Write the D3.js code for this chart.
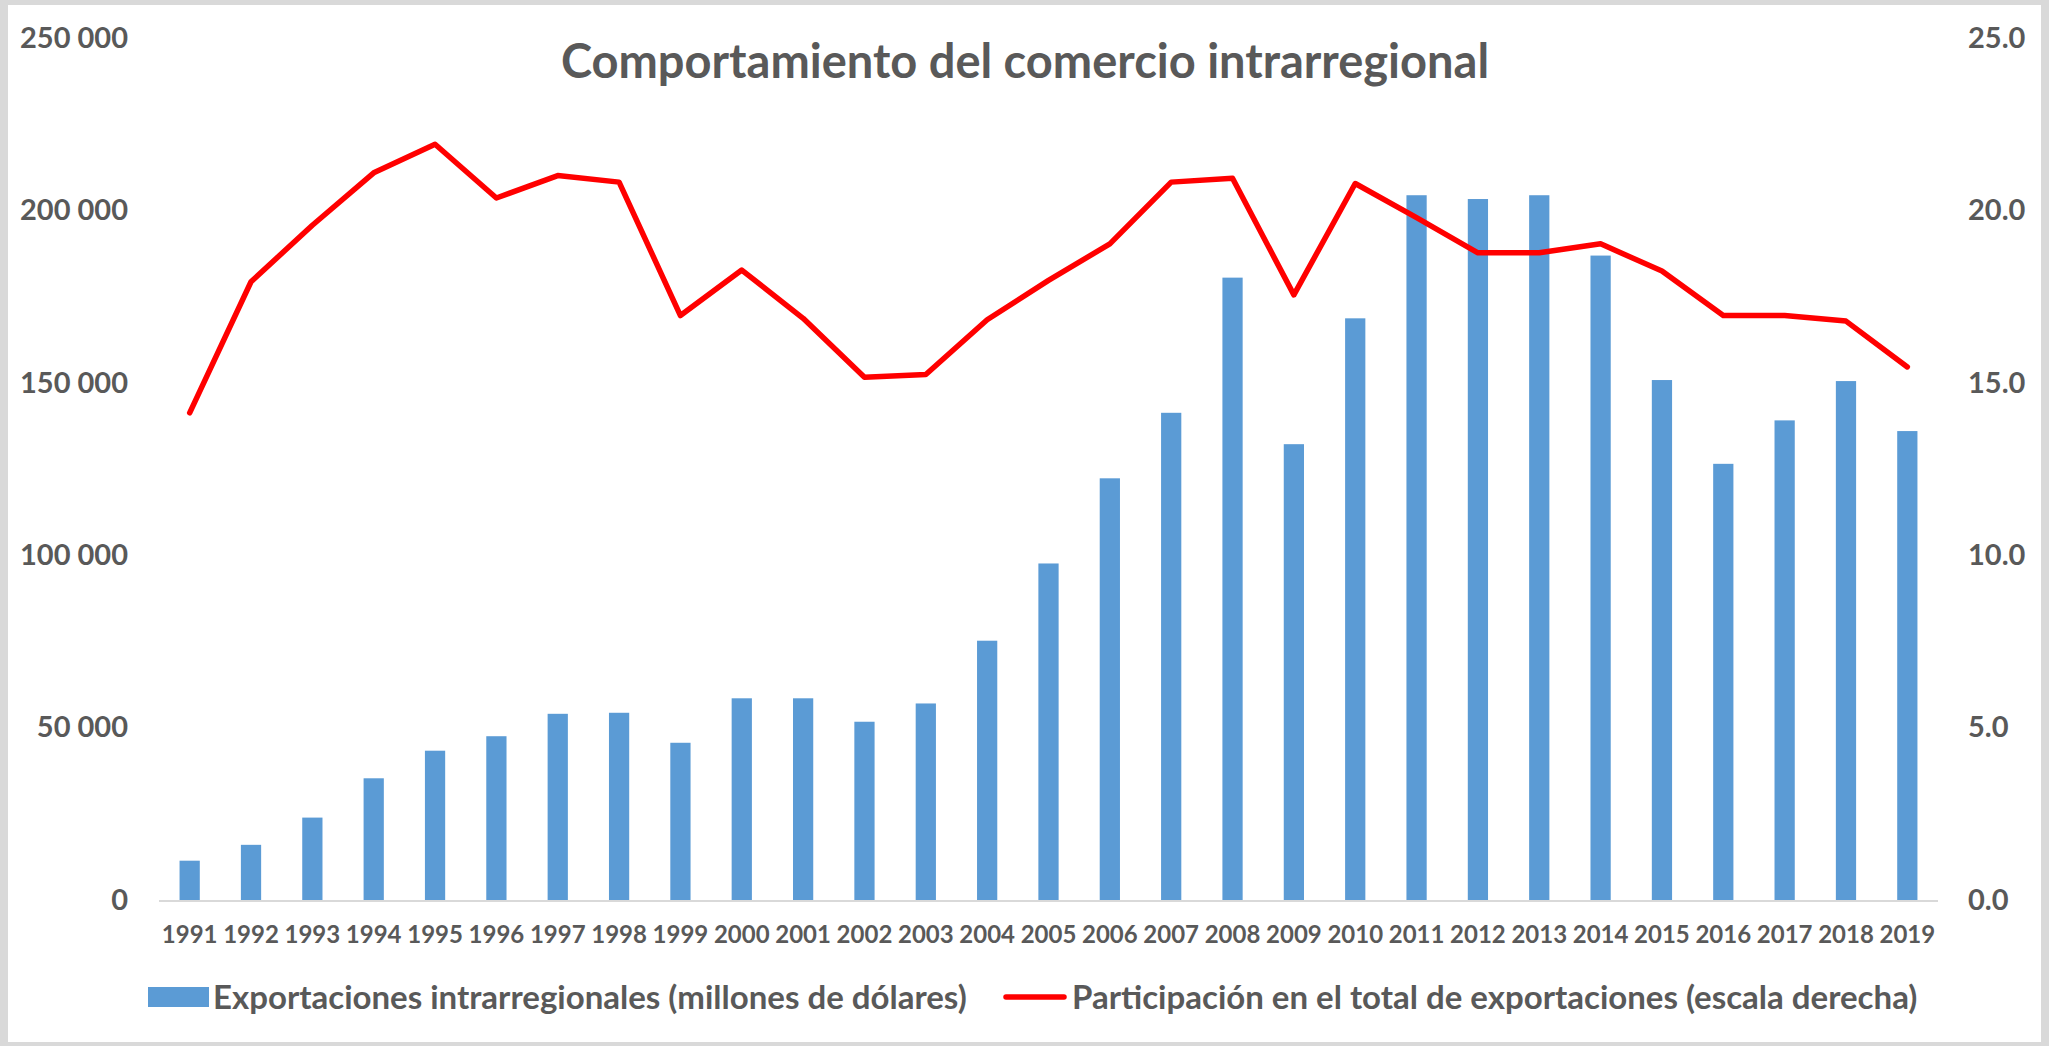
<!DOCTYPE html>
<html><head><meta charset="utf-8">
<script src="https://cdn.jsdelivr.net/npm/d3@7"></script>
<style>body{margin:0;background:#fff}svg{display:block}</style>
</head><body>
<script>
const years = [1991,1992,1993,1994,1995,1996,1997,1998,1999,2000,2001,2002,2003,2004,2005,2006,2007,2008,2009,2010,2011,2012,2013,2014,2015,2016,2017,2018,2019];
const exportaciones = [11400,16000,23900,35300,43300,47500,54000,54300,45600,58500,58500,51700,57000,75200,97600,122300,141300,180500,132200,168700,204400,203300,204400,186900,150800,126500,139100,150500,136000];
const participacion = [14.13,17.93,19.57,21.09,21.92,20.36,21.01,20.82,16.95,18.27,16.87,15.16,15.24,16.83,17.97,19.03,20.82,20.93,17.55,20.78,19.79,18.77,18.77,19.03,18.24,16.95,16.95,16.79,15.46];
const leftTicks = [0,50000,100000,150000,200000,250000];
const rightTicks = [0,5,10,15,20,25];
const title = "Comportamiento del comercio intrarregional";
const legendLabels = ["Exportaciones intrarregionales (millones de dólares)","Participación en el total de exportaciones (escala derecha)"];

const W=2049,H=1046;
const FONT="Lato, 'Open Sans', sans-serif";
const TXT="#595959";
const svg=d3.select("body").append("svg").attr("width",W).attr("height",H);
svg.append("rect").attr("width",W).attr("height",H).attr("fill","#D9D9D9");
svg.append("rect").attr("x",8).attr("y",5).attr("width",2033).attr("height",1037).attr("fill","#fff");

const m={l:159,r:1938,t:38,b:900};
const x=d3.scaleBand().domain(years).range([m.l,m.r]).paddingInner(0.67).paddingOuter(0.335);
const yL=d3.scaleLinear().domain([0,250000]).range([m.b,m.t]);
const yR=d3.scaleLinear().domain([0,25]).range([m.b,m.t]);

svg.append("g").selectAll("rect").data(years).join("rect")
  .attr("x",d=>x(d)).attr("width",x.bandwidth())
  .attr("y",(d,i)=>yL(exportaciones[i])).attr("height",(d,i)=>m.b-yL(exportaciones[i]))
  .attr("fill","#5B9BD5");

svg.append("line").attr("x1",m.l).attr("x2",m.r).attr("y1",m.b+1).attr("y2",m.b+1)
  .attr("stroke","#D9D9D9").attr("stroke-width",2);

const fmt=d=>d3.format(",")(d).replace(/,/g," ");
const gL=svg.append("g").attr("transform",`translate(128,0)`)
  .call(d3.axisLeft(yL).tickValues(leftTicks).tickFormat(fmt).tickSize(0).tickPadding(0));
gL.select(".domain").remove();
const gR=svg.append("g").attr("transform",`translate(1968,0)`)
  .call(d3.axisRight(yR).tickValues(rightTicks).tickFormat(d3.format(".1f")).tickSize(0).tickPadding(0));
gR.select(".domain").remove();
const gX=svg.append("g").attr("transform",`translate(0,${m.b+26})`)
  .call(d3.axisBottom(x).tickSize(0).tickPadding(0));
gX.select(".domain").remove();
svg.selectAll(".tick text").attr("font-family",FONT).attr("font-weight","bold").attr("fill",TXT);
gL.selectAll("text").attr("font-size",29);
gR.selectAll("text").attr("font-size",29);
gX.selectAll("text").attr("font-size",24).attr("dy","0.71em");

const line=d3.line().x((d,i)=>x(years[i])+x.bandwidth()/2).y(d=>yR(d));
svg.append("path").datum(participacion).attr("d",line).attr("fill","none")
  .attr("stroke","#FF0000").attr("stroke-width",5.5).attr("stroke-linejoin","round").attr("stroke-linecap","round");

svg.append("text").attr("x",1025).attr("y",78).attr("text-anchor","middle")
  .attr("font-family",FONT).attr("font-weight","bold").attr("font-size",47).attr("fill",TXT).text(title);

const lg=svg.append("g");
lg.append("rect").attr("x",148).attr("y",987).attr("width",61).attr("height",20).attr("fill","#5B9BD5");
lg.append("text").attr("x",213).attr("y",1009).attr("font-family",FONT).attr("font-weight","bold")
  .attr("font-size",33).attr("fill",TXT).text(legendLabels[0]);
lg.append("line").attr("x1",1006).attr("x2",1064).attr("y1",997).attr("y2",997)
  .attr("stroke","#FF0000").attr("stroke-width",5.5).attr("stroke-linecap","round");
lg.append("text").attr("x",1072).attr("y",1009).attr("font-family",FONT).attr("font-weight","bold")
  .attr("font-size",33).attr("fill",TXT).text(legendLabels[1]);
</script>
</body></html>
